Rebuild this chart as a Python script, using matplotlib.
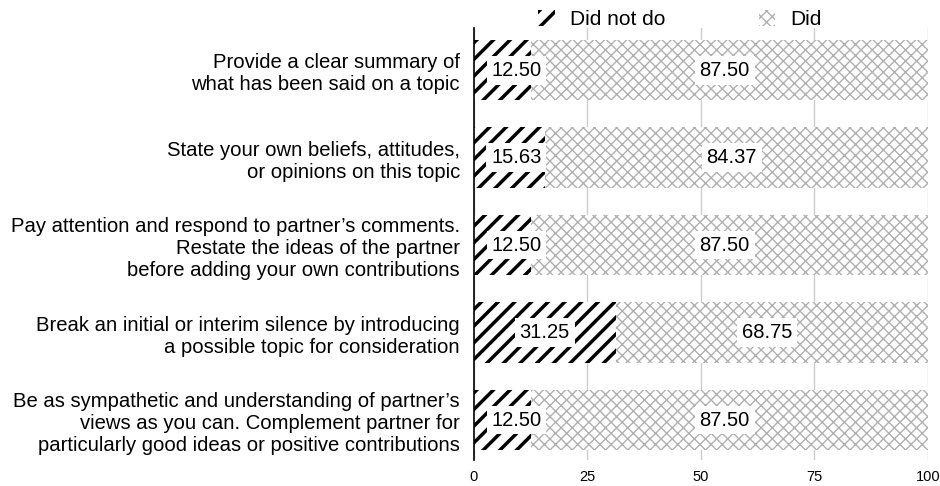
import matplotlib
matplotlib.use("Agg")
import matplotlib.pyplot as plt
import numpy as np

plt.rcParams['font.family'] = ['Liberation Sans', 'DejaVu Sans']
plt.rcParams['hatch.linewidth'] = 1.0

categories = [
    "Provide a clear summary of\nwhat has been said on a topic",
    "State your own beliefs, attitudes,\nor opinions on this topic",
    "Pay attention and respond to partner\u2019s comments.\nRestate the ideas of the partner\nbefore adding your own contributions",
    "Break an initial or interim silence by introducing\na possible topic for consideration",
    "Be as sympathetic and understanding of partner\u2019s\nviews as you can. Complement partner for\nparticularly good ideas or positive contributions",
]
did_not_do = [12.50, 15.63, 12.50, 31.25, 12.50]
did = [87.50, 84.37, 87.50, 68.75, 87.50]
xticks = [0, 25, 50, 75, 100]

fig = plt.figure(figsize=(9.4, 4.86), dpi=100)
ax = fig.add_axes([0.504, 0.053, 0.483, 0.889])

y = np.arange(len(categories))
h = 0.69
grey = '#b0b0b0'

ax.grid(axis='x', color='#cccccc', linewidth=1.0, zorder=0)
ax.set_axisbelow(True)

b1 = ax.barh(y, did_not_do, height=h, color='white', edgecolor='black',
             hatch='//', linewidth=0, label='Did not do', zorder=2)
b2 = ax.barh(y, did, left=did_not_do, height=h, color='white', edgecolor=grey,
             hatch='xxx', linewidth=0, label='Did', zorder=2)
for p in b1:
    p._hatch_color = (0, 0, 0, 1)
    if hasattr(p, 'set_hatch_linewidth'):
        p.set_hatch_linewidth(2.5)
for p in b2:
    p._hatch_color = matplotlib.colors.to_rgba(grey)

box = dict(facecolor='white', edgecolor='none', pad=3.5)
for yi, a, b in zip(y, did_not_do, did):
    ax.text(max(a / 2, 9.4), yi, f"{a:.2f}", ha='center', va='center', fontsize=14.5,
            zorder=5, bbox=box)
    ax.text(a + b / 2 - 1.0, yi, f"{b:.2f}", ha='center', va='center', fontsize=14.5,
            zorder=5, bbox=box)

ax.set_xlim(0, 100)
ax.set_ylim(4.46, -0.48)
ax.set_yticks(y)
ax.set_yticklabels(categories, fontsize=14.6, linespacing=1.2)
ax.set_xticks(xticks)
ax.set_xticklabels([str(t) for t in xticks], fontsize=10.5)
ax.tick_params(axis='both', length=0)
ax.tick_params(axis='x', pad=7)
ax.tick_params(axis='y', pad=10)
for s in ['top', 'right', 'bottom']:
    ax.spines[s].set_visible(False)
ax.spines['left'].set_color('black')
ax.spines['left'].set_linewidth(1.2)

leg = ax.legend(loc='lower center', bbox_to_anchor=(0.454, 0.978), ncol=2, frameon=False,
                fontsize=15, handlelength=0.8, handleheight=0.8, handletextpad=0.7,
                columnspacing=4.5, borderaxespad=0.0)
hs = leg.legend_handles
hs[0].set_hatch('//')
if hasattr(hs[0], 'set_hatch_linewidth'):
    hs[0].set_hatch_linewidth(2.5)
hs[0]._hatch_color = (0, 0, 0, 1)
hs[1]._hatch_color = matplotlib.colors.to_rgba(grey)
for hnd in hs:
    hnd.set_linewidth(0)

fig.savefig("out.png", dpi=100)
